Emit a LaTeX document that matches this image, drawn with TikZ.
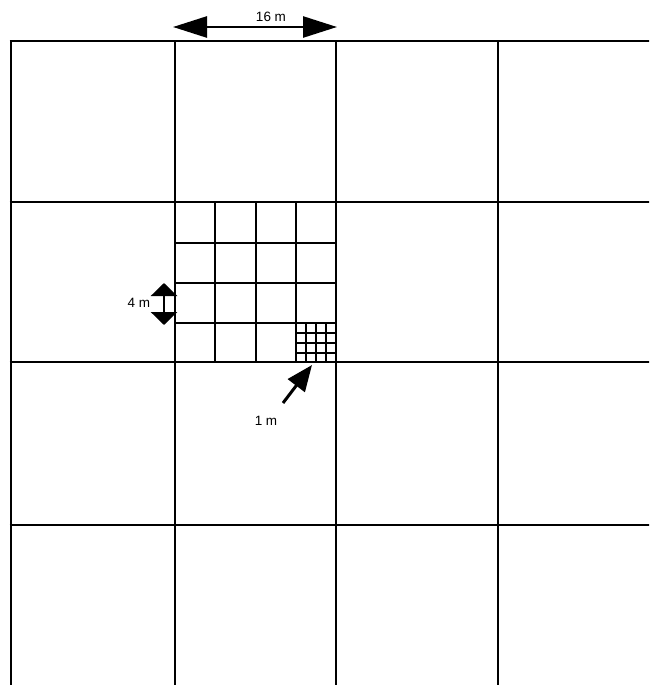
\documentclass[tikz,border=0pt]{standalone}
\usepackage{fontspec}
\setmainfont{Liberation Sans}
\usetikzlibrary{arrows.meta}
\begin{document}
\begin{tikzpicture}[x=1pt,y=-1pt,
  major/.style={line width=2.8pt},
  minor/.style={line width=2.2pt},
  fine/.style={line width=1.5pt},
  lbl/.style={font=\fontsize{13.5}{15}\selectfont, inner sep=1pt},
  dimarrow/.style={line width=2.6pt}]
\useasboundingbox (0,0) rectangle (649,685);
\begin{scope}
\clip (0,0) rectangle (649,685);
% major grid
\foreach \x in {11,175,336,498} \draw[major] (\x,41) -- (\x,690);
\foreach \y in {41,202,362,525} \draw[major] (9.6,\y) -- (655,\y);
% 4 m subgrid
\foreach \x in {215,256,296} \draw[minor] (\x,202) -- (\x,362);
\foreach \y in {243,283,323} \draw[minor] (175,\y) -- (336,\y);
% 1 m subgrid
\foreach \x in {306,316,326} \draw[fine] (\x,323) -- (\x,362);
\foreach \y in {333,343,353} \draw[fine] (296,\y) -- (336,\y);
\end{scope}
% 16 m dimension
\coordinate (a16l) at (173,27);
\coordinate (a16r) at (337,27);
\draw[dimarrow,{Triangle[length=34pt,width=21pt]}-{Triangle[length=34pt,width=21pt]}] (a16l) -- (a16r);
\node[lbl] (t16) at (271,17) {16 m};
% 4 m dimension
\coordinate (a4t) at (164,283);
\coordinate (a4b) at (164,325);
\draw[dimarrow,{Triangle[length=13pt,width=26pt]}-{Triangle[length=13pt,width=26pt]}] (a4t) -- (a4b);
\node[lbl] (t4) at (139,303) {4 m};
% 1 m pointer
\coordinate (a1s) at (283,403);
\coordinate (a1e) at (312,365);
\draw[line width=3pt,-{Triangle[length=26pt,width=21pt]}] (a1s) -- (a1e);
\node[lbl] (t1) at (266,421) {1 m};
\end{tikzpicture}
\end{document}
